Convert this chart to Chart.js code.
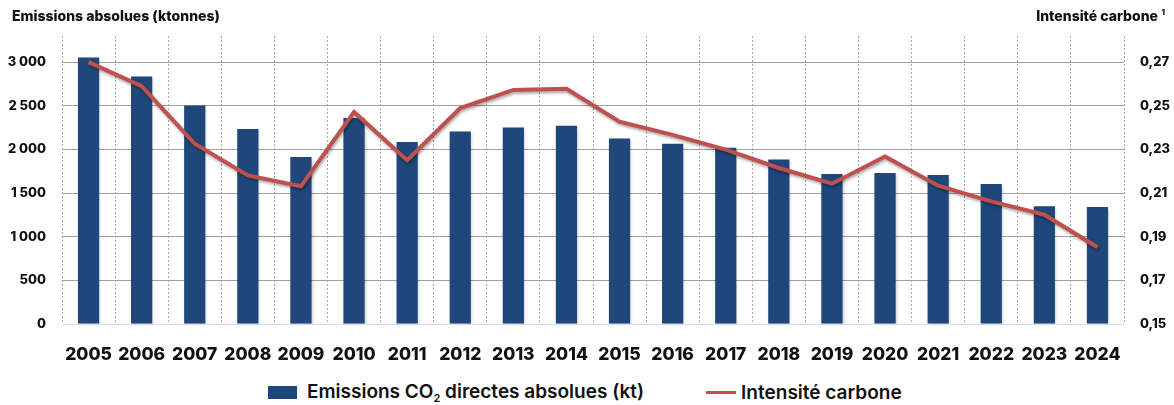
<!DOCTYPE html>
<html lang="fr">
<head>
<meta charset="utf-8">
<script src="https://cdn.jsdelivr.net/npm/chart.js@4/dist/chart.umd.min.js"></script>
<style>
  html, body { margin: 0; padding: 0; background: #fff; }
  body { width: 1174px; height: 405px; overflow: hidden; font-family: Inter, "Open Sans", sans-serif; }
  #zone { position: relative; width: 1174px; height: 372px; }
  .legende { display: flex; align-items: center; height: 26px; padding-top: 7px; padding-left: 268px; font-size: 19px; font-weight: 600; color: #111; }
  .legende .carre { width: 29px; height: 13px; background: #1F477B; margin-right: 10px; }
  .legende .trait { width: 30px; height: 3px; background: #C0504D; margin: 0 5px 0 62px; }
  .legende sub { font-size: 11px; vertical-align: -4px; }
</style>
</head>
<body>
<div id="zone"><canvas id="graphique"></canvas></div>
<div class="legende">
  <span class="carre"></span><span>Emissions CO<sub>2</sub> directes absolues (kt)</span>
  <span class="trait"></span><span>Intensité carbone</span>
</div>
<script>
// Années et valeurs
const annees = ["2005", "2006", "2007", "2008", "2009", "2010", "2011", "2012", "2013", "2014",
                "2015", "2016", "2017", "2018", "2019", "2020", "2021", "2022", "2023", "2024"];
const emissions = [3055, 2835, 2503, 2233, 1913, 2360, 2085, 2206, 2252, 2271,
                   2126, 2065, 2019, 1886, 1718, 1730, 1707, 1604, 1348, 1341];
const intensite = [0.270, 0.259, 0.2326, 0.2181, 0.2131, 0.2472, 0.2251, 0.249, 0.2573, 0.2578,
                   0.2427, 0.2367, 0.2299, 0.2215, 0.2143, 0.2268, 0.2134, 0.2062, 0.2001, 0.1852];
const ticksGauche = [0, 500, 1000, 1500, 2000, 2500, 3000];
const ticksDroite = [0.15, 0.17, 0.19, 0.21, 0.23, 0.25, 0.27];

const police = "Inter, 'Open Sans', sans-serif";

// Titres des deux axes, en haut du graphique
const titresAxes = {
  id: "titresAxes",
  afterDraw(chart) {
    const ctx = chart.ctx;
    ctx.save();
    ctx.font = "800 14px " + police;
    ctx.fillStyle = "#111";
    ctx.textBaseline = "middle";
    ctx.textAlign = "left";
    ctx.fillText("Emissions absolues (ktonnes)", 12, 17);
    ctx.textAlign = "right";
    ctx.fillText("Intensité carbone", 1158, 17);
    ctx.font = "800 8px " + police;
    ctx.fillText("1", 1165, 13);
    ctx.restore();
  }
};

// Petite ombre sous les barres et la courbe
const ombre = {
  id: "ombre",
  beforeDatasetDraw(chart, args) {
    const ctx = chart.ctx;
    ctx.save();
    ctx.shadowColor = args.meta.type === "line" ? "rgba(0,0,0,0.35)" : "rgba(0,0,0,0.2)";
    ctx.shadowBlur = 3;
    ctx.shadowOffsetX = 1;
    ctx.shadowOffsetY = 2;
  },
  afterDatasetDraw(chart) {
    chart.ctx.restore();
  }
};

new Chart(document.querySelector("#graphique"), {
  data: {
    labels: annees,
    datasets: [
      {
        type: "line",
        label: "Intensité carbone",
        data: intensite,
        yAxisID: "y1",
        borderColor: "#C0504D",
        borderWidth: 4,
        pointRadius: 0,
        tension: 0,
        order: 0
      },
      {
        type: "bar",
        label: "Emissions CO₂ directes absolues (kt)",
        data: emissions,
        yAxisID: "y",
        backgroundColor: "#1F477B",
        barPercentage: 0.4,
        categoryPercentage: 1,
        order: 1
      }
    ]
  },
  options: {
    responsive: true,
    maintainAspectRatio: false,
    animation: false,
    layout: { padding: { top: 36, left: 0, right: 0, bottom: 0 } },
    plugins: {
      legend: { display: false },
      tooltip: { enabled: false }
    },
    scales: {
      x: {
        offset: true,
        // lignes verticales pointillées entre les années (bords compris)
        grid: { offset: true, color: "#a8a8a8", lineWidth: 1, drawTicks: false },
        border: { display: true, color: "#d6dde8", dash: [2, 2] },
        ticks: {
          color: "#111",
          padding: 20,
          maxRotation: 0,
          font: { family: police, size: 17.5, weight: "800" }
        },
        afterFit(scale) { scale.height = 48; }
      },
      y: {
        position: "left",
        min: 0,
        max: 3300,
        afterBuildTicks(scale) { scale.ticks = ticksGauche.map(v => ({ value: v })); },
        grid: { color: "#a0a0a0", drawTicks: false },
        border: { display: false },
        ticks: {
          color: "#111",
          padding: 16,
          font: { family: police, size: 13, weight: "800" },
          callback: v => v >= 1000 ? Math.floor(v / 1000) + " " + String(v % 1000).padStart(3, "0") : String(v)
        },
        afterFit(scale) { scale.width = 62; }
      },
      y1: {
        position: "right",
        min: 0.15,
        max: 0.282,
        afterBuildTicks(scale) { scale.ticks = ticksDroite.map(v => ({ value: v })); },
        grid: { display: false, drawTicks: false },
        border: { display: false },
        ticks: {
          color: "#111",
          padding: 16,
          font: { family: police, size: 13, weight: "800" },
          callback: v => v.toFixed(2).replace(".", ",")
        },
        afterFit(scale) { scale.width = 50; }
      }
    }
  },
  plugins: [ombre, titresAxes]
});
</script>
</body>
</html>
